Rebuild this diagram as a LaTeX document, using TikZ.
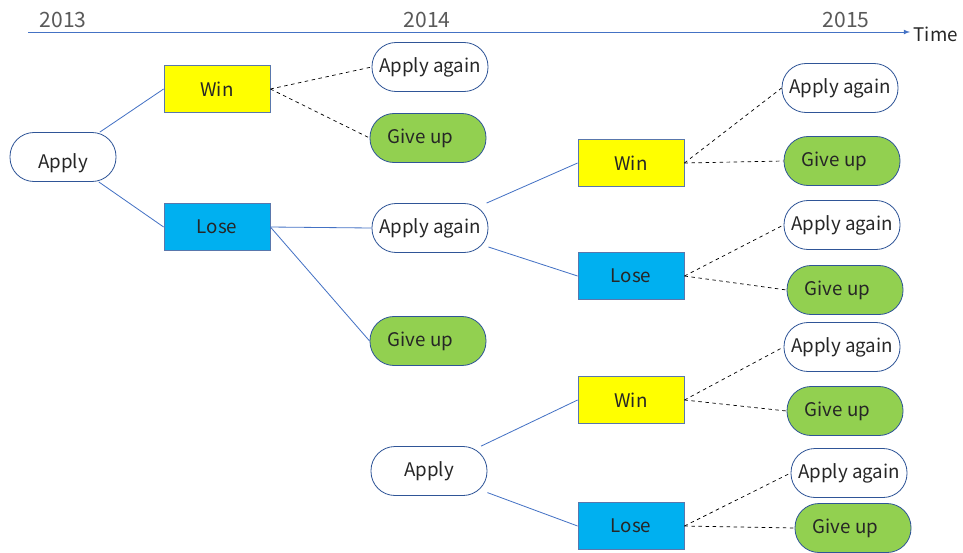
\documentclass[tikz,border=0pt]{standalone}
\usepackage{fontspec}
\setmainfont{Noto Sans CJK JP}
\usepackage{tikz}

\definecolor{winyellow}{HTML}{FFFF00}
\definecolor{loseblue}{HTML}{00B0F0}
\definecolor{quitgreen}{HTML}{92D050}
\definecolor{edgeblue}{HTML}{4472C4}
\definecolor{rimblue}{HTML}{2F5597}
\definecolor{yeargray}{HTML}{595959}

\begin{document}
\begin{tikzpicture}[x=0.03cm, y=-0.03cm,
  every node/.style={font=\fontsize{16}{18}\selectfont, text=black!85},
  result/.style={draw=rimblue!80, line width=0.7pt, minimum width=3.18cm, minimum height=1.42cm, inner sep=0pt},
  choice/.style={draw=rimblue, line width=0.7pt, rounded corners=0.72cm, minimum width=3.48cm, minimum height=1.47cm, inner sep=0pt},
  solidlink/.style={edgeblue, line width=0.7pt},
  dashlink/.style={black, dashed, line width=0.6pt},
  year/.style={text=yeargray, font=\fontsize{18}{20}\selectfont}]
\useasboundingbox (0,0) rectangle (963,552);

% time axis
\coordinate (t0) at (28,32);
\coordinate (t1) at (910,32);
\draw[edgeblue, line width=0.8pt, -latex] (t0) -- (t1);
\node[anchor=west, inner sep=3pt, yshift=-0.08cm] (time) at (t1) {Time};
\node[year] (y13) at (63,20) {2013};
\node[year] (y14) at (427,20) {2014};
\node[year] (y15) at (846,20) {2015};

% 2013
\node[choice, minimum width=3.18cm] (apply) at (63,157) {\raisebox{-0.35cm}[0pt][0pt]{Apply}};
\node[result, fill=winyellow] (win) at (217,89) {Win};
\node[result, fill=loseblue] (lose) at (217,227) {Lose};

% 2014
\node[choice] (againA) at (430,67) {Apply again};
\node[choice, fill=quitgreen] (quitA) at (428,138) {\hspace*{-0.45cm}Give up};
\node[choice] (againB) at (430,228) {Apply again};
\node[choice, fill=quitgreen] (quitB) at (428,341) {\hspace*{-0.45cm}Give up};
\node[choice] (applyB) at (429,471) {Apply};

\node[result, fill=winyellow] (winB) at (631,163) {Win};
\node[result, fill=loseblue] (loseB) at (631,276) {Lose};
\node[result, fill=winyellow] (winC) at (631,400) {Win};
\node[result, fill=loseblue] (loseC) at (631,526) {Lose};

% 2015
\node[choice] (againC) at (840,88) {Apply again};
\node[choice, fill=quitgreen] (quitC) at (842,161) {\hspace*{-0.45cm}Give up};
\node[choice] (againD) at (842,225) {Apply again};
\node[choice, fill=quitgreen] (quitD) at (845,290) {\hspace*{-0.45cm}Give up};
\node[choice] (againE) at (842,347) {Apply again};
\node[choice, fill=quitgreen] (quitE) at (845,411) {\hspace*{-0.45cm}Give up};
\node[choice] (againF) at (849,473) {Apply again};
\node[choice, fill=quitgreen] (quitF) at (853,528) {\hspace*{-0.45cm}Give up};

% branches
\draw[solidlink] (apply) -- (win.west);
\draw[solidlink] (apply) -- (lose.west);
\draw[solidlink] (lose.east) -- (againB.west);
\draw[solidlink] (lose.east) -- (quitB.west);
\draw[solidlink] (againB) -- (winB.west);
\draw[solidlink] (againB) -- (loseB.west);
\draw[solidlink] (applyB) -- (winC.west);
\draw[solidlink] (applyB) -- (loseC.west);

\draw[dashlink] (win.east) -- (againA.west);
\draw[dashlink] (win.east) -- (quitA.west);
\draw[dashlink] (winB.east) -- (againC.west);
\draw[dashlink] (winB.east) -- (quitC.west);
\draw[dashlink] (loseB.east) -- (againD.west);
\draw[dashlink] (loseB.east) -- (quitD.west);
\draw[dashlink] (winC.east) -- (againE.west);
\draw[dashlink] (winC.east) -- (quitE.west);
\draw[dashlink] (loseC.east) -- (againF.west);
\draw[dashlink] (loseC.east) -- (quitF.west);
\end{tikzpicture}
\end{document}
